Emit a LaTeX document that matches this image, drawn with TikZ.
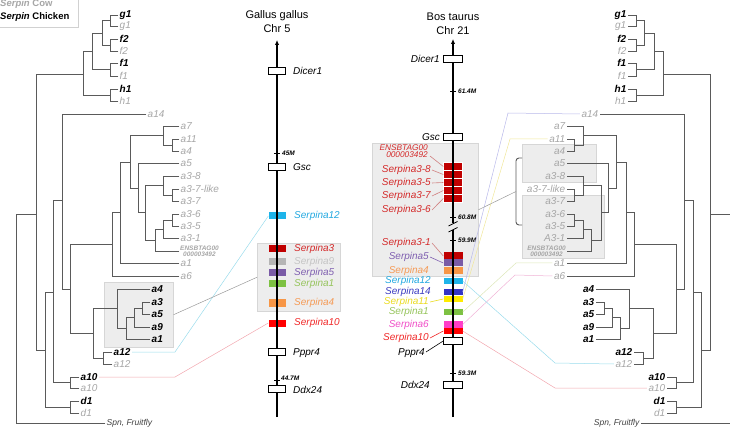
\documentclass[tikz,border=0pt]{standalone}
\usepackage{fontspec}
\setmainfont{Liberation Sans}
\usetikzlibrary{arrows.meta}
\definecolor{treeg}{HTML}{5A5A5A}
\definecolor{coww}{HTML}{A6A6A6}
\definecolor{panelg}{HTML}{EDEDED}
\definecolor{panelb}{HTML}{D6D6D6}
\definecolor{sIII}{HTML}{C00000}
\definecolor{sIIIt}{HTML}{D42A2A}
\definecolor{sIX}{HTML}{B5B5B5}
\definecolor{sIXt}{HTML}{C4C4C4}
\definecolor{sV}{HTML}{7A5BA6}
\definecolor{sVt}{HTML}{7F5FB0}
\definecolor{sI}{HTML}{7DC142}
\definecolor{sIt}{HTML}{96C45C}
\definecolor{sIV}{HTML}{F79646}
\definecolor{sIVt}{HTML}{F59A55}
\definecolor{sX}{HTML}{FF0000}
\definecolor{sXt}{HTML}{F02828}
\definecolor{sXII}{HTML}{1EB4EA}
\definecolor{sXIIt}{HTML}{22A8E0}
\definecolor{sXIV}{HTML}{3535C5}
\definecolor{sXIVt}{HTML}{3B3BC0}
\definecolor{sXI}{HTML}{FFEB00}
\definecolor{sXIt}{HTML}{EADB20}
\definecolor{sVI}{HTML}{FF3EC8}
\definecolor{sVIt}{HTML}{F050C8}
\definecolor{lcyan}{HTML}{9ADCEC}
\definecolor{lpink}{HTML}{F2A6AE}
\definecolor{llav}{HTML}{B9B9EA}
\definecolor{lyel}{HTML}{F0E79A}
\definecolor{lgrn}{HTML}{DDE7B8}
\definecolor{lmag}{HTML}{F0B3D6}
\definecolor{lgrey}{HTML}{9A9A9A}
\definecolor{leadr}{HTML}{D08080}
\newcommand{\leaf}[5]{\coordinate (#1) at (#2,#3); \node[#4,anchor=\lanc] (#1t) at (#1) {#5};}
\newcommand{\br}[3]{\draw[branch] (#1) |- (#2) (#1) |- (#3);}
\newcommand{\drawtree}[1]{%
 \leaf{#1g1}{118}{15}{ck}{g1}
 \leaf{#1g1c}{118}{26}{cw}{g1}
 \leaf{#1f2}{118}{39}{ck}{f2}
 \leaf{#1f2c}{118}{51}{cw}{f2}
 \leaf{#1f1}{118}{63}{ck}{f1}
 \leaf{#1f1c}{118}{76}{cw}{f1}
 \leaf{#1h1}{118}{89}{ck}{h1}
 \leaf{#1h1c}{118}{101}{cw}{h1}
 \leaf{#1a14}{146}{114}{cw}{a14}
 \leaf{#1a7}{179}{126}{cw}{a7}
 \leaf{#1a11}{179}{139}{cw}{a11}
 \leaf{#1a4c}{179}{151}{cw}{a4}
 \leaf{#1a5c}{179}{163}{cw}{a5}
 \leaf{#1a38}{179}{176}{cw}{a3-8}
 \leaf{#1a37l}{179}{189}{cw}{a3-7-like}
 \leaf{#1a37}{179}{201}{cw}{a3-7}
 \leaf{#1a36}{179}{214}{cw}{a3-6}
 \leaf{#1a35}{179}{226}{cw}{a3-5}
 \leaf{#1a31}{179}{238}{cw}{\aThreeOne}
 \leaf{#1ens}{179}{251}{ensb}{ENSBTAG00\\000003492}
 \leaf{#1a1c}{179}{263}{cw}{a1}
 \leaf{#1a6}{179}{276}{cw}{a6}
 \leaf{#1a4}{150}{289}{ck}{a4}
 \leaf{#1a3}{150}{302}{ck}{a3}
 \leaf{#1a5}{150}{314}{ck}{a5}
 \leaf{#1a9}{150}{327}{ck}{a9}
 \leaf{#1a1}{150}{339}{ck}{a1}
 \leaf{#1a12}{112}{352}{ck}{a12}
 \leaf{#1a12c}{112}{364}{cw}{a12}
 \leaf{#1a10}{79}{377}{ck}{a10}
 \leaf{#1a10c}{79}{388}{cw}{a10}
 \leaf{#1d1}{79}{401}{ck}{d1}
 \leaf{#1d1c}{79}{413}{cw}{d1}
 \leaf{#1spn}{105}{423}{spn}{Spn, Fruitfly}
 \coordinate (#1gg) at (110,20.5);
 \coordinate (#1ff2) at (110,45);
 \coordinate (#1ff1) at (110,69.5);
 \coordinate (#1hh) at (110,95);
 \coordinate (#1n102) at (102,33);
 \coordinate (#1n92) at (92,51);
 \coordinate (#1G) at (83,74);
 \coordinate (#1c1p) at (172,145);
 \coordinate (#1c1) at (163,135.5);
 \coordinate (#1p378) at (172,195);
 \coordinate (#1q1) at (163,185.5);
 \coordinate (#1p365) at (172,220);
 \coordinate (#1q2) at (163,229);
 \coordinate (#1q3) at (155,240);
 \coordinate (#1c2) at (145,212.75);
 \coordinate (#1c3) at (138,188);
 \coordinate (#1c4) at (130,162);
 \coordinate (#1c5) at (120,212.5);
 \coordinate (#1c6) at (112,244);
 \coordinate (#1h35) at (142,308);
 \coordinate (#1h9) at (134,317.5);
 \coordinate (#1h1x) at (126,328);
 \coordinate (#1chk) at (117,308.5);
 \coordinate (#1p12) at (103,358);
 \coordinate (#1n93) at (93,333);
 \coordinate (#1n70) at (70,289);
 \coordinate (#1n62) at (62,200);
 \coordinate (#1p10) at (70,382.5);
 \coordinate (#1n53) at (53,292);
 \coordinate (#1pd1) at (70,407);
 \coordinate (#1n45) at (45,350);
 \coordinate (#1n36) at (36,214);
 \coordinate (#1root) at (16,318);
 \br{#1gg}{#1g1}{#1g1c}
 \br{#1ff2}{#1f2}{#1f2c}
 \br{#1ff1}{#1f1}{#1f1c}
 \br{#1hh}{#1h1}{#1h1c}
 \br{#1n102}{#1gg}{#1ff2}
 \br{#1n92}{#1n102}{#1ff1}
 \br{#1G}{#1n92}{#1hh}
 \br{#1c1p}{#1a11}{#1a4c}
 \br{#1c1}{#1a7}{#1c1p}
 \br{#1p378}{#1a37l}{#1a37}
 \br{#1q1}{#1a38}{#1p378}
 \br{#1p365}{#1a36}{#1a35}
 \br{#1q2}{#1p365}{#1a31}
 \br{#1q3}{#1q2}{#1ens}
 \br{#1c2}{#1q1}{#1q3}
 \br{#1c3}{#1a5c}{#1c2}
 \br{#1c4}{#1c1}{#1c3}
 \br{#1c5}{#1c4}{#1a1c}
 \br{#1c6}{#1c5}{#1a6}
 \br{#1h35}{#1a3}{#1a5}
 \br{#1h9}{#1h35}{#1a9}
 \br{#1h1x}{#1h9}{#1a1}
 \br{#1chk}{#1a4}{#1h1x}
 \br{#1p12}{#1a12}{#1a12c}
 \br{#1n93}{#1chk}{#1p12}
 \br{#1n70}{#1c6}{#1n93}
 \br{#1n62}{#1a14}{#1n70}
 \br{#1p10}{#1a10}{#1a10c}
 \br{#1n53}{#1n62}{#1p10}
 \br{#1pd1}{#1d1}{#1d1c}
 \br{#1n45}{#1n53}{#1pd1}
 \br{#1n36}{#1G}{#1n45}
 \br{#1root}{#1n36}{#1spn}
}
\tikzset{
 branch/.style={draw=treeg, line width=0.9pt, line cap=rect},
 ck/.style={font=\fontsize{10}{11}\selectfont\bfseries\itshape, text=black, inner sep=1.5pt},
 cw/.style={font=\fontsize{10}{11}\selectfont\itshape, text=coww, inner sep=1.5pt},
 ensb/.style={font=\fontsize{6.5}{6}\selectfont\bfseries\itshape, text=coww, align=center, inner sep=1pt},
 spn/.style={font=\fontsize{8.5}{9}\selectfont\itshape, text=black!75, inner sep=1.5pt},
 gbox/.style={draw=black, line width=0.6pt, fill=white, minimum width=17pt, minimum height=7pt, inner sep=0pt},
 gblk/.style={minimum width=17pt, minimum height=7pt, inner sep=0pt},
 bbox/.style={gbox, minimum width=19pt},
 bblk/.style={gblk, minimum width=19pt, minimum height=6.5pt},
 glbl/.style={font=\fontsize{10}{11}\selectfont\itshape, inner sep=0pt, anchor=west},
 blbl/.style={glbl, anchor=east},
 ticklbl/.style={font=\fontsize{6.5}{7}\selectfont\bfseries\itshape, inner sep=0pt, anchor=west},
 chrom/.style={line width=1.6pt},
 panel/.style={fill=panelg, draw=panelb, line width=0.5pt, inner sep=0pt, anchor=north west},
 link/.style={line width=0.5pt},
 leader/.style={line width=0.6pt},
 ttl/.style={font=\fontsize{11}{14}\selectfont, align=center},
 legtxt/.style={font=\fontsize{9.5}{10}\selectfont\bfseries, anchor=west, inner sep=0pt},
}
\begin{document}
\begin{tikzpicture}[x=1pt,y=-1pt]
\useasboundingbox (0,0) rectangle (730,427);
% legend
\node[draw=black!18, fill=white, minimum width=80pt, minimum height=29pt, inner sep=0pt, anchor=north west] (legbox) at (-2,-2) {};
\node[legtxt, text=coww] (legcow) at (0,4.5) {\textit{Serpin} Cow};
\node[legtxt, text=black] (legchk) at (0,17) {\textit{Serpin} Chicken};
% panels
\node[panel, minimum width=69pt, minimum height=65pt] (chkpanel) at (104,282) {};
\node[panel, minimum width=83pt, minimum height=68pt] (gpanel) at (257,243) {};
\node[panel, minimum width=106pt, minimum height=133pt] (bpanel) at (372,143) {};
\node[panel, minimum width=74pt, minimum height=38pt] (rpanelA) at (522,144) {};
\node[panel, minimum width=82pt, minimum height=63pt] (rpanelB) at (522,195) {};
% trees
\begin{scope}
 \def\lanc{west}\def\aThreeOne{a3-1}
 \drawtree{L}
\end{scope}
\begin{scope}[shift={(746,0)},xscale=-1]
 \def\lanc{east}\def\aThreeOne{A3-1}
 \drawtree{R}
\end{scope}
% bracket
\draw[branch, line cap=butt, rounded corners=3pt] (522,158) -- (516,158) -- (516,225) -- (522,225);
\coordinate (brk) at (516,191.5);
% ---------- Gallus chromosome
\node[ttl] (gttl) at (277,22) {Gallus gallus\\Chr 5};
\coordinate (gtop) at (277,40);
\coordinate (gbot) at (277,417);
\node[gblk, fill=sXII] (gS12) at (277,216) {};
\node[gblk, fill=sIII] (gS3) at (277,249) {};
\node[gblk, fill=sIX] (gS9) at (277,262) {};
\node[gblk, fill=sV] (gS5) at (277,273) {};
\node[gblk, fill=sI] (gS1) at (277,284) {};
\node[gblk, fill=sIV] (gS4) at (277,303) {};
\node[gblk, fill=sX] (gS10) at (277,323) {};
\draw[chrom, -{Latex[length=5pt,width=4.5pt]}] (gbot) -- (gtop);
\node[gbox] (gDicer) at (277,70.5) {};
\node[gbox] (gGsc) at (277,167) {};
\node[gbox] (gPppr) at (277,352) {};
\node[gbox] (gDdx) at (277,389) {};
\draw[line width=0.6pt] (274,153) -- (280,153) (274,380) -- (280,380);
\node[ticklbl] (g45) at (282,153) {45M};
\node[ticklbl] (g447) at (281,378) {44.7M};
\node[glbl] (gDicerl) at (293,71) {Dicer1};
\node[glbl] (gGscl) at (293,167) {Gsc};
\node[glbl, text=sXIIt] (gS12l) at (294,216) {Serpina12};
\node[glbl, text=sIIIt] (gS3l) at (294,249) {Serpina3};
\node[glbl, text=sIXt] (gS9l) at (294,262) {Serpina9};
\node[glbl, text=sVt] (gS5l) at (294,273) {Serpina5};
\node[glbl, text=sIt] (gS1l) at (294,284) {Serpina1};
\node[glbl, text=sIVt] (gS4l) at (294,303) {Serpina4};
\node[glbl, text=sXt] (gS10l) at (294,323) {Serpina10};
\node[glbl] (gPpprl) at (293,353) {Pppr4};
\node[glbl] (gDdxl) at (293,390) {Ddx24};
% ---------- Bos chromosome
\node[ttl] (bttl) at (453,23.5) {Bos taurus\\Chr 21};
\coordinate (btop) at (453,39);
\coordinate (bbot) at (453,417);
\node[bblk, fill=sIII, draw=white, line width=0.4pt, minimum height=8pt] (bE) at (453,166.5) {};
\node[bblk, fill=sIII, draw=white, line width=0.4pt, minimum height=8pt] (b38) at (453,174.5) {};
\node[bblk, fill=sIII, draw=white, line width=0.4pt, minimum height=8pt] (b35) at (453,182.5) {};
\node[bblk, fill=sIII, draw=white, line width=0.4pt, minimum height=8pt] (b37) at (453,190.5) {};
\node[bblk, fill=sIII, draw=white, line width=0.4pt, minimum height=8pt] (b36) at (453,198.5) {};
\node[bblk, fill=sIII, minimum height=7pt] (b31) at (453,256) {};
\node[bblk, fill=sV, minimum height=7pt] (b5) at (453,263) {};
\node[bblk, fill=sIV, minimum height=7pt] (b4) at (453,270.5) {};
\node[bblk, fill=sXII] (b12) at (453,281) {};
\node[bblk, fill=sXIV] (b14) at (453,292) {};
\node[bblk, fill=sXI] (b11) at (453,299) {};
\node[bblk, fill=sI] (b1) at (453,312) {};
\node[bblk, fill=sVI] (b6) at (453,324.5) {};
\node[bblk, fill=sX] (b10) at (453,331) {};
\draw[chrom, -{Latex[length=5pt,width=4.5pt]}] (bbot) -- (btop);
\node[bbox] (bDicer) at (453,59) {};
\node[bbox] (bGsc) at (453,137) {};
\node[bbox] (bPppr) at (453,341) {};
\node[bbox] (bDdx) at (453,385) {};
\fill[panelg] (449,223.5) rectangle (457,230.5);
\draw[line width=0.8pt] (448.5,226) -- (457.5,221.5) (448.5,232) -- (457.5,227.5);
\draw[line width=0.6pt] (450,91) -- (456,91) (450,217) -- (456,217) (450,240) -- (456,240) (450,373) -- (456,373);
\node[ticklbl] (b614) at (458,91) {61.4M};
\node[ticklbl] (b608) at (458,217) {60.8M};
\node[ticklbl] (b599) at (458,240) {59.9M};
\node[ticklbl] (b593) at (458,373) {59.3M};
\node[blbl] (bDicerl) at (440,59) {Dicer1};
\node[blbl] (bGscl) at (440,137) {Gsc};
\node[blbl, text=sIIIt, align=right, font=\fontsize{8.3}{7.5}\selectfont\itshape] (bEl) at (428,151) {ENSBTAG00\\000003492};
\node[blbl, text=sIIIt] (b38l) at (431,170) {Serpina3-8};
\node[blbl, text=sIIIt] (b35l) at (431,183) {Serpina3-5};
\node[blbl, text=sIIIt] (b37l) at (431,196) {Serpina3-7};
\node[blbl, text=sIIIt] (b36l) at (431,210) {Serpina3-6};
\node[blbl, text=sIIIt] (b31l) at (431,243) {Serpina3-1};
\node[blbl, text=sVt] (b5l) at (429,257) {Serpina5};
\node[blbl, text=sIVt] (b4l) at (429,271) {Serpina4};
\node[blbl, text=sXIIt] (b12l) at (431,281) {Serpina12};
\node[blbl, text=sXIVt] (b14l) at (431,292) {Serpina14};
\node[blbl, text=sXIt] (b11l) at (429,302) {Serpina11};
\node[blbl, text=sIt] (b1l) at (429,312) {Serpina1};
\node[blbl, text=sVIt] (b6l) at (429,325) {Serpina6};
\node[blbl, text=sXt] (b10l) at (429,338) {Serpina10};
\node[blbl] (bPpprl) at (425,353) {Pppr4};
\node[blbl] (bDdxl) at (430,385) {Ddx24};
% leaders
\draw[leader, leadr] ([xshift=2pt,yshift=-5pt]bEl.east) -- (bE.west);
\draw[leader, leadr] ([xshift=1pt]b38l.east) -- (b38.west);
\draw[leader, leadr] ([xshift=1pt]b35l.east) -- (b35.west);
\draw[leader, leadr] ([xshift=1pt]b37l.east) -- (b37.west);
\draw[leader, leadr] ([xshift=1pt]b36l.east) -- (b36.west);
\draw[leader, leadr] ([xshift=1pt]b31l.east) -- (b31.west);
\draw[leader, sVt] ([xshift=1pt]b5l.east) -- (b5.west);
\draw[leader, sXIt] ([xshift=1pt]b11l.east) -- (b11.west);
\draw[leader, sXt] ([xshift=1pt]b10l.east) -- (b10.west);
\draw[leader, black] ([xshift=1pt,yshift=1pt]bPpprl.east) -- (bPppr.west);
% ---------- links left
\coordinate (lk12) at (175,352);
\coordinate (lk10) at (175,377);
\draw[link, lcyan] (gS12.west) -- (lk12) -- (La12t.east);
\draw[link, lpink] (gS10.west) -- (lk10) -- (La10t.east);
\draw[link, lgrey] (chkpanel.east) -- (gpanel.west);
% ---------- links right
\coordinate (rk14) at (508,113);
\coordinate (rk11) at (510,139);
\coordinate (rk1) at (516,263);
\coordinate (rk6) at (515,275);
\coordinate (rk12) at (555,363);
\coordinate (rk10) at (555,388);
\draw[link, llav] (b14.east) -- (rk14) -- (Ra14t.west);
\draw[link, lyel] (b11.east) -- (rk11) -- (Ra11t.west);
\draw[link, lgrn] (b1.east) -- (rk1) -- (Ra1ct.west);
\draw[link, lmag] (b6.east) -- (rk6) -- (Ra6t.west);
\draw[link, lcyan] (b12.east) -- (rk12) -- (Ra12ct.west);
\draw[link, lpink] (b10.east) -- (rk10) -- (Ra10ct.west);
\draw[link, lgrey] (brk) -- (bpanel.east);
\end{tikzpicture}
\end{document}
